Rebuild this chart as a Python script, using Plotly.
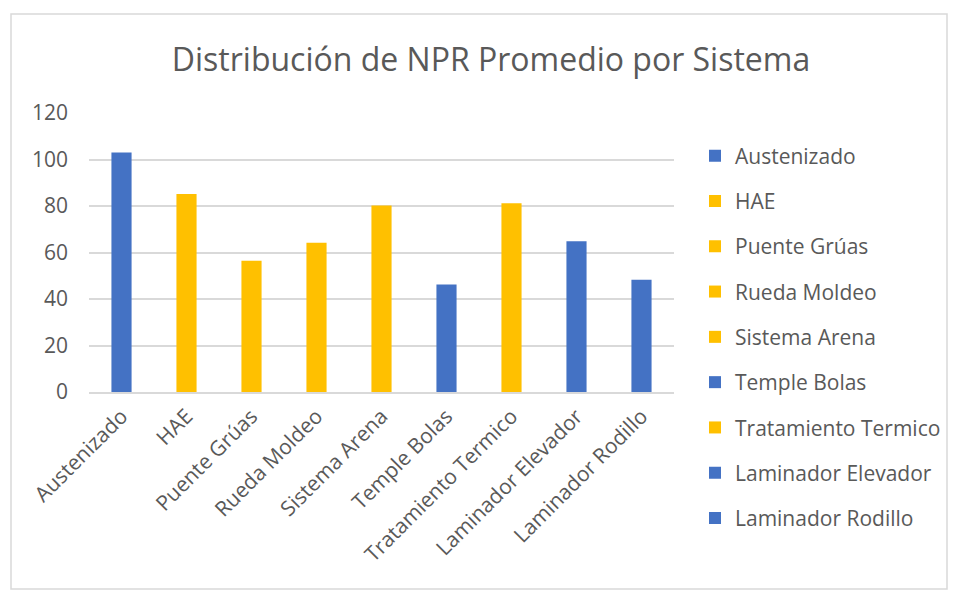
import plotly.graph_objects as go

categories = ["Austenizado", "HAE", "Puente Grúas", "Rueda Moldeo", "Sistema Arena",
              "Temple Bolas", "Tratamiento Termico", "Laminador Elevador", "Laminador Rodillo"]
values = [103.0, 85.2, 56.5, 64.2, 80.2, 46.2, 81.2, 64.8, 48.3]
colors = ["#4472C4", "#FFC000", "#FFC000", "#FFC000", "#FFC000",
          "#4472C4", "#FFC000", "#4472C4", "#4472C4"]
y_ticks = [0, 20, 40, 60, 80, 100, 120]

FONT = "Open Sans"
TXT = "#595959"
GRID = "#D9D9D9"

W, H = 959, 594
ML, MR, MT, MB = 89, 285, 113, 202

fig = go.Figure()
for i, (c, v, col) in enumerate(zip(categories, values, colors)):
    fig.add_trace(go.Bar(
        x=[c], y=[v], name=c, marker=dict(color=col, line=dict(width=0)),
        width=0.31, legendgroup=f"g{i}", showlegend=True,
    ))

pw = W - ML - MR
ph = H - MT - MB
def px_x(p):
    return (p - ML) / pw
def px_y(p):
    return (H - MB - p) / ph

fig.add_shape(type="rect", xref="paper", yref="paper",
              x0=px_x(11), x1=px_x(947), y0=px_y(589), y1=px_y(14),
              line=dict(color=GRID, width=1.5), fillcolor="rgba(0,0,0,0)", layer="below")

fig.update_layout(
    width=W, height=H,
    margin=dict(l=ML, r=MR, t=MT, b=MB, pad=0),
    paper_bgcolor="white", plot_bgcolor="white",
    barmode="overlay",
    font=dict(family=FONT, color=TXT, size=21),
    title=dict(text="Distribución de NPR Promedio por Sistema",
               font=dict(family=FONT, size=32, color=TXT),
               x=(170 + 812) / 2 / W, xanchor="center", xref="container",
               y=1 - 60 / H, yanchor="middle", yref="container"),
    xaxis=dict(type="category", tickangle=-45, showgrid=False,
               showline=True, linecolor=GRID, linewidth=1.5,
               ticks="", tickfont=dict(size=21, color=TXT), ticklabelstandoff=2),
    yaxis=dict(range=[0, 120], tickvals=y_ticks, showgrid=True, gridcolor=GRID, gridwidth=1.5,
               zeroline=False, showline=False, ticks="",
               tickfont=dict(size=21, color=TXT), ticklabelstandoff=20),
    legend=dict(xref="container", yref="container", x=695 / W, xanchor="left",
                y=1 - 337 / H, yanchor="middle", tracegroupgap=15, maxheight=594,
                font=dict(size=21, color=TXT), bgcolor="rgba(0,0,0,0)"),
    showlegend=True,
)

fig.write_html("out.html", config={"displayModeBar": False},
               post_script="document.body.style.margin='0';")
